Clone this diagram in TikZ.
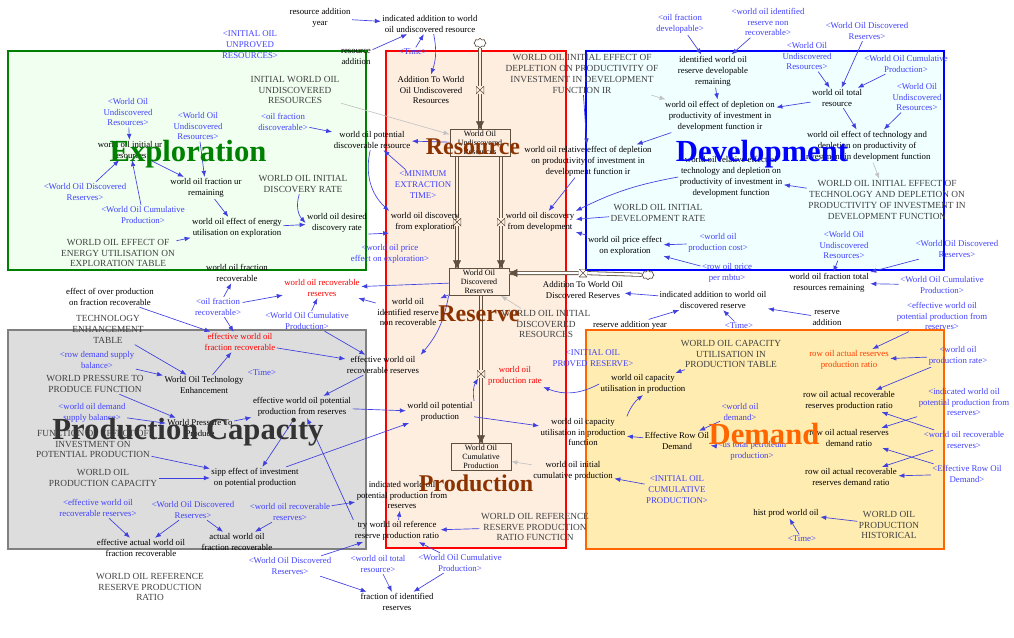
\documentclass[tikz,border=0pt]{standalone}
\usepackage{fontspec}
\setmainfont{Liberation Serif}
\usetikzlibrary{arrows.meta,calc,shapes.symbols}
\definecolor{expfill}{RGB}{240,255,240}
\definecolor{expline}{RGB}{0,128,0}
\definecolor{resfill}{RGB}{253,238,224}
\definecolor{resline}{RGB}{255,0,0}
\definecolor{resword}{RGB}{140,50,0}
\definecolor{devfill}{RGB}{240,255,255}
\definecolor{devline}{RGB}{0,0,255}
\definecolor{capfill}{RGB}{221,221,221}
\definecolor{capline}{RGB}{128,128,128}
\definecolor{capword}{RGB}{51,51,51}
\definecolor{demfill}{RGB}{255,236,176}
\definecolor{demline}{RGB}{255,102,0}
\definecolor{shadowc}{RGB}{64,64,255}
\definecolor{linkc}{RGB}{64,64,224}
\definecolor{constc}{RGB}{64,64,64}
\definecolor{pipec}{RGB}{96,80,64}
\definecolor{initc}{RGB}{195,195,195}
\definecolor{ratioc}{RGB}{255,60,0}
\newcommand{\varfont}{\fontsize{6.6}{8.2}\selectfont}
\newcommand{\capsfont}{\fontsize{7}{8.2}\selectfont}
\newcommand{\stockfont}{\fontsize{6}{6.6}\selectfont}
\tikzset{var/.style={font=\varfont,align=center,inner sep=1pt,text=black},cst/.style={var,font=\capsfont,text=constc},shd/.style={var,text=shadowc},redv/.style={var,text=red},orv/.style={var,text=ratioc},stock/.style={draw=pipec,fill=resfill,font=\stockfont,align=center,minimum width=45pt,minimum height=20pt,inner sep=1pt,line width=0.6pt},panel/.style={line width=2pt},sector/.style={font=\fontsize{23}{23}\selectfont\bfseries,inner sep=0pt},subsector/.style={font=\fontsize{18}{18}\selectfont\bfseries,inner sep=0pt,text=resword},lnk/.style={-{Latex[length=4.5pt,width=3.5pt]},draw=linkc,line width=0.5pt},ilk/.style={lnk,draw=initc},pipe/.style={draw=pipec,line width=0.6pt,double=resfill,double distance=1.8pt},pipehead/.style={-{Triangle[length=6pt,width=6pt]},draw=pipec,fill=pipec,line width=0.4pt},valvev/.style={minimum width=6pt,minimum height=6pt,inner sep=0pt,path picture={\draw[pipec,line width=0.5pt] (path picture bounding box.south west)--(path picture bounding box.north east)--(path picture bounding box.south east)--(path picture bounding box.north west)--cycle;}},valveh/.style={valvev,path picture={\draw[pipec,line width=0.5pt] (path picture bounding box.south west)--(path picture bounding box.north east)--(path picture bounding box.north west)--(path picture bounding box.south east)--cycle;}},cloudnode/.style={cloud,cloud puffs=8,draw=pipec,fill=white,minimum width=9pt,minimum height=7pt,inner sep=0pt,line width=0.5pt}}
\begin{document}
\begin{tikzpicture}[x=0.75pt,y=-0.75pt]
\useasboundingbox (0,0) rectangle (1014,637);
% sectors
\draw[panel,draw=expline,fill=expfill] (8,51) rectangle (366,270);
\draw[panel,draw=resline,fill=resfill] (386,51) rectangle (566,548);
\draw[panel,draw=devline,fill=devfill] (586,51) rectangle (944,270);
\draw[panel,draw=capline,fill=capfill] (8,330) rectangle (366,549);
\draw[panel,draw=demline,fill=demfill] (586,330) rectangle (944,549);
% stocks, clouds and valves
\node[stock] (wour) at (480,143) {World Oil\\Undiscovered\\Resources};
\node[stock] (wodr) at (479,282) {World Oil\\Discovered\\Reserves};
\node[stock] (wocp) at (481,457) {World Oil\\Cumulative\\Production};
\node[cloudnode] (cldtop) at (480,43) {};
\node[cloudnode] (cldright) at (648,275) {};
\node[valvev] (vadd) at (480,90) {};
\node[valvev] (vexp) at (457,222) {};
\node[valvev] (vdev) at (501,222) {};
\node[valvev] (vprod) at (481,374) {};
\node[valveh] (vdisc) at (583,273) {};
\draw[pipe] (cldtop)--(vadd)--(wour);
\draw[pipe] (vexp |- wour.south)--(vexp)--(vexp |- wodr.north);
\draw[pipe] (vdev |- wour.south)--(vdev)--(vdev |- wodr.north);
\draw[pipe] (vprod |- wodr.south)--(vprod)--(vprod |- wocp.north);
\draw[pipe,double=white] (cldright)--(vdisc)--(vdisc -| wodr.east);
\draw[pipehead] ($(wour.north)+(0,-1)$)--(wour.north);
\draw[pipehead] ($(vexp |- wodr.north)+(0,-1)$)--(vexp |- wodr.north);
\draw[pipehead] ($(vdev |- wodr.north)+(0,-1)$)--(vdev |- wodr.north);
\draw[pipehead] ($(vprod |- wocp.north)+(0,-1)$)--(vprod |- wocp.north);
\draw[pipehead] ($(vdisc -| wodr.east)+(1,0)$)--(vdisc -| wodr.east);
% top
\node[var] (rayear) at (320,18) {resource addition\\year};
\node[var] (indaddur) at (430,24) {indicated addition to world\\oil undiscovered resource};
\node[shd] (timea) at (413,52) {<Time>};
\node[var] (resadd) at (356,57) {resource\\addition};
\node[shd] (iour) at (250,45) {<INITIAL OIL\\UNPROVED\\RESOURCES>};
\node[var] (adduri) at (431,90) {Addition To World\\Oil Undiscovered\\Resources};
\node[cst] (iwour) at (295,90) {INITIAL WORLD OIL\\UNDISCOVERED\\RESOURCES};
% exploration
\node[shd] (wour1) at (128,112) {<World Oil\\Undiscovered\\Resources>};
\node[var] (iniur) at (130,150) {world oil initial ur\\resources};
\node[shd] (wour2) at (198,126) {<World Oil\\Undiscovered\\Resources>};
\node[var] (fracur) at (206,188) {world oil fraction ur\\remaining};
\node[shd] (wodr1) at (85,192) {<World Oil Discovered\\Reserves>};
\node[shd] (wocp1) at (143,215) {<World Oil Cumulative\\Production>};
\node[var] (effen) at (237,228) {world oil effect of energy\\utilisation on exploration};
\node[cst] (effentab) at (118,253) {WORLD OIL EFFECT OF\\ENERGY UTILISATION ON\\EXPLORATION TABLE};
\node[shd] (ofdisc) at (283,122) {<oil fraction\\discoverable>};
\node[var] (potdisc) at (372,140) {world oil potential\\discoverable resource};
\node[shd] (minext) at (423,185) {<MINIMUM\\EXTRACTION\\TIME>};
\node[cst] (inidisc) at (303,184) {WORLD OIL INITIAL\\DISCOVERY RATE};
\node[var] (desdisc) at (337,223) {world oil desired\\discovery rate};
\node[var] (discexp) at (425,222) {world oil discovery\\from exploration};
\node[shd] (pricexp1) at (390,254) {<world oil price\\effect on exploration>};
% development
\node[shd] (ofdev) at (680,24) {<oil fraction\\developable>};
\node[shd] (woirnr) at (768,22) {<world oil identified\\reserve non\\recoverable>};
\node[shd] (wodr2) at (867,31) {<World Oil Discovered\\Reserves>};
\node[shd] (wour3) at (807,56) {<World Oil\\Undiscovered\\Resources>};
\node[shd] (wocp2) at (906,64) {<World Oil Cumulative\\Production>};
\node[var] (idrem) at (713,71) {identified world oil\\reserve developable\\remaining};
\node[var] (totres) at (837,98) {world oil total\\resource};
\node[shd] (wour4) at (917,97) {<World Oil\\Undiscovered\\Resources>};
\node[var] (efftech) at (867,146) {world oil effect of technology and\\depletion on productivity of\\investment in development function};
\node[cst] (iniefftech) at (887,200) {WORLD OIL INITIAL EFFECT OF\\TECHNOLOGY AND DEPLETION ON\\PRODUCTIVITY OF INVESTMENT IN\\DEVELOPMENT FUNCTION};
\node[var] (reltech) at (731,177) {world oil relative effect of\\technology and depletion on\\productivity of investment in\\development function};
\node[var] (effdep) at (720,116) {world oil effect of depletion on\\productivity of investment in\\development function ir};
\node[cst] (inieffdep) at (582,74) {WORLD OIL INITIAL EFFECT OF\\DEPLETION ON PRODUCTIVITY OF\\INVESTMENT IN DEVELOPMENT\\FUNCTION IR};
\node[var] (reldep) at (588,161) {world oil relative effect of depletion\\on productivity of investment in\\development function ir};
\node[var] (discdev) at (540,222) {world oil discovery\\from development};
\node[cst] (inidev) at (658,213) {WORLD OIL INITIAL\\DEVELOPMENT RATE};
\node[var] (pricexp2) at (625,246) {world oil price effect\\on exploration};
\node[shd] (prodcost) at (718,243) {<world oil\\production cost>};
\node[shd] (rowprice) at (727,273) {<row oil price\\per mbtu>};
% right of development
\node[shd] (wour5) at (844,245) {<World Oil\\Undiscovered\\Resources>};
\node[shd] (wodr3) at (957,249) {<World Oil Discovered\\Reserves>};
\node[var] (fractot) at (829,283) {world oil fraction total\\resources remaining};
\node[shd] (wocp3) at (942,285) {<World Oil Cumulative\\Production>};
\node[var] (resaddb) at (827,318) {reserve\\addition};
\node[var] (indadddr) at (713,300) {indicated addition to world oil\\discovered reserve};
\node[var] (addrdi) at (583,290) {Addition To World Oil\\Discovered Reserves};
\node[var] (rayear2) at (630,325) {reserve addition year};
\node[shd] (timeb) at (739,326) {<Time>};
\node[shd] (effpotpr1) at (942,316) {<effective world oil\\potential production from\\reserves>};
% reserve and production capacity
\node[redv] (recres) at (322,288) {world oil recoverable\\reserves};
\node[shd] (wocp4) at (307,321) {<World Oil Cumulative\\Production>};
\node[var] (idnr) at (408,312) {world oil\\identified reserve\\non recoverable};
\node[cst] (inidiscres) at (546,324) {WORLD OIL INITIAL\\DISCOVERED\\RESOURCES};
\node[var] (effrecres) at (383,365) {effective world oil\\recoverable reserves};
\node[redv] (efffrac) at (240,342) {effective world oil\\fraction recoverable};
\node[shd] (timec) at (262,373) {<Time>};
\node[var] (fracrec) at (237,273) {world oil fraction\\recoverable};
\node[shd] (ofrec) at (218,307) {<oil fraction\\recoverable>};
\node[var] (eop) at (110,297) {effect of over production\\on fraction recoverable};
\node[cst] (techtab) at (108,329) {TECHNOLOGY\\ENHANCEMENT\\TABLE};
\node[shd] (rdsb) at (97,360) {<row demand supply\\balance>};
\node[var] (techenh) at (204,385) {World Oil Technology\\Enhancement};
\node[cst] (wptpf) at (95,384) {WORLD PRESSURE TO\\PRODUCE FUNCTION};
\node[shd] (wodsb) at (92,413) {<world oil demand\\supply balance>};
\node[var] (wptp) at (200,428) {World Pressure To\\Produce};
\node[cst] (foeoi) at (93,444) {FUNCTION OF EFFECT OF\\INVESTMENT ON\\POTENTIAL PRODUCTION};
\node[cst] (wopc) at (103,478) {WORLD OIL\\PRODUCTION CAPACITY};
\node[var] (sipp) at (255,478) {sipp effect of investment\\on potential production};
\node[var] (effpotpr) at (302,407) {effective world oil potential\\production from reserves};
\node[var] (potprod) at (440,412) {world oil potential\\production};
\node[redv] (prodrate) at (515,376) {world oil\\production rate};
\node[var] (cupf) at (583,432) {world oil capacity\\utilisation in production\\function};
\node[var] (cup) at (643,384) {world oil capacity\\utilisation in production};
\node[cst] (cutab) at (731,354) {WORLD OIL CAPACITY\\UTILISATION IN\\PRODUCTION TABLE};
\node[var] (erod) at (677,441) {Effective Row Oil\\Demand};
\node[shd] (wodem) at (740,412) {<world oil\\demand>};
\node[shd] (ustp) at (752,451) {<us total petroleum\\production>};
\node[var] (inicp) at (573,471) {world oil initial\\cumulative production};
\node[shd] (iocp) at (677,490) {<INITIAL OIL\\CUMULATIVE\\PRODUCTION>};
\node[shd] (iopr) at (593,358) {<INITIAL OIL\\PROVED RESERVE>};
\node[cst] (rrprf) at (535,527) {WORLD OIL REFERENCE\\RESERVE PRODUCTION\\RATIO FUNCTION};
\node[var] (tryrr) at (397,531) {try world oil reference\\reserve production ratio};
\node[var] (indpot) at (402,495) {indicated world oil\\potential production from\\reserves};
\node[shd] (worr) at (290,512) {<world oil recoverable\\reserves>};
\node[var] (actfrac) at (237,542) {actual world oil\\fraction recoverable};
\node[shd] (wodr4) at (193,510) {<World Oil Discovered\\Reserves>};
\node[shd] (ewrr) at (98,508) {<effective world oil\\recoverable reserves>};
\node[var] (eafrac) at (141,548) {effective actual world oil\\fraction recoverable};
\node[cst] (rrpr) at (150,587) {WORLD OIL REFERENCE\\RESERVE PRODUCTION\\RATIO};
\node[shd] (wodr5) at (290,566) {<World Oil Discovered\\Reserves>};
\node[shd] (wotr) at (378,564) {<world oil total\\resource>};
\node[shd] (wocp5) at (460,563) {<World Oil Cumulative\\Production>};
\node[var] (fir) at (397,602) {fraction of identified\\reserves};
% demand
\node[orv] (rarpr) at (849,360) {row oil actual reserves\\production ratio};
\node[shd] (woprate) at (958,356) {<world oil\\production rate>};
\node[var] (rarrpr) at (849,401) {row oil actual recoverable\\reserves production ratio};
\node[shd] (iwpp) at (964,402) {<indicated world oil\\potential production from\\reserves>};
\node[var] (rard) at (849,438) {row oil actual reserves\\demand ratio};
\node[var] (rarrd) at (851,477) {row oil actual recoverable\\reserves demand ratio};
\node[shd] (worr2) at (964,440) {<world oil recoverable\\reserves>};
\node[shd] (erod2) at (967,474) {<Effective Row Oil\\Demand>};
\node[var] (hist) at (786,513) {hist prod world oil};
\node[cst] (woph) at (889,525) {WORLD OIL\\PRODUCTION\\HISTORICAL};
\node[shd] (timed) at (802,539) {<Time>};
% links
\draw[lnk] (rayear)--(indaddur);
\draw[lnk] (resadd)--(indaddur);
\draw[lnk] (timea)--(indaddur);
\draw[lnk] (indaddur.-70) to[bend left=15] (adduri.north);
\draw[ilk] (iwour)--(wour);
\draw[lnk] (wour1)--(iniur);
\draw[lnk] (wour2)--(fracur);
\draw[lnk] (iniur)--(fracur);
\draw[lnk] (wodr1)--(iniur);
\draw[lnk] (wocp1)--(iniur);
\draw[lnk] (fracur)--(effen);
\draw[lnk] (effentab)--(effen);
\draw[lnk] (ofdisc)--(potdisc);
\draw[lnk] (wour)--(potdisc);
\draw[lnk] (minext)--(potdisc);
\draw[lnk] (potdisc.-100) to[bend right=30] (discexp.north west);
\draw[lnk] (inidisc.-110) to[bend right=30] (desdisc.west);
\draw[lnk] (effen)--(desdisc);
\draw[lnk] (desdisc.south east)--(discexp.south west);
\draw[lnk] (ofdev)--(idrem);
\draw[lnk] (woirnr)--(idrem);
\draw[lnk] (wour3)--(totres);
\draw[lnk] (wodr2)--(totres);
\draw[lnk] (wocp2)--(totres);
\draw[lnk] (totres)--(efftech);
\draw[lnk] (wour4)--(efftech);
\draw[ilk] (efftech)--(iniefftech);
\draw[lnk] (iniefftech)--(reltech);
\draw[lnk] (totres)--(effdep);
\draw[lnk] (idrem)--(effdep);
\draw[ilk] (inieffdep)--(effdep);
\draw[lnk] (effdep)--(reldep);
\draw[lnk] (inieffdep)--(reldep);
\draw[lnk] (reldep)--(discdev);
\draw[lnk] (reltech.west) to[bend right=8] (discdev.north east);
\draw[lnk] (inidev)--(discdev);
\draw[lnk] (pricexp2)--(discdev);
\draw[lnk] (prodcost)--(pricexp2);
\draw[lnk] (rowprice)--(pricexp2);
\draw[lnk] (wour5)--(fractot);
\draw[lnk] (wodr3)--(fractot);
\draw[lnk] (wocp3)--(fractot);
\draw[lnk] (resaddb)--(indadddr);
\draw[lnk] (indadddr)--(addrdi);
\draw[lnk] (rayear2)--(indadddr);
\draw[lnk] (timeb)--(indadddr);
\draw[lnk] (wodr)--(recres);
\draw[lnk] (wocp4)--(recres);
\draw[lnk] (idnr)--(recres);
\draw[lnk] (wodr)--(idnr);
\draw[ilk] (inidiscres)--(wodr);
\draw[lnk] (wodr.south west) to[bend left=15] (effrecres.north east);
\draw[lnk] (efffrac)--(effrecres);
\draw[lnk] (wocp4)--(effrecres);
\draw[lnk] (ofrec)--(fracrec);
\draw[lnk] (ofrec)--(recres);
\draw[lnk] (ofrec)--(efffrac);
\draw[lnk] (eop)--(efffrac);
\draw[lnk] (techtab)--(techenh);
\draw[lnk] (rdsb)--(techenh);
\draw[lnk] (techenh)--(efffrac);
\draw[lnk] (wptpf)--(wptp);
\draw[lnk] (wodsb)--(wptp);
\draw[lnk] (wptp)--(effpotpr);
\draw[lnk] (foeoi)--(sipp);
\draw[lnk] (wopc)--(sipp);
\draw[lnk] (effrecres)--(effpotpr);
\draw[lnk] (effpotpr)--(potprod);
\draw[lnk] (effpotpr)--(sipp);
\draw[lnk] (sipp)--(potprod);
\draw[lnk] (potprod.north east) to[bend left=20] (vprod);
\draw[lnk] (potprod)--(cupf);
\draw[lnk] (cup.west) to[bend left=25] (prodrate.south east);
\draw[lnk] (cupf.north east) to[bend left=15] (cup.south);
\draw[lnk] (erod)--(cupf);
\draw[lnk] (cutab)--(cup);
\draw[lnk] (wodem)--(erod);
\draw[lnk] (ustp)--(erod);
\draw[ilk] (inicp)--(wocp);
\draw[lnk] (iocp)--(inicp);
\draw[lnk] (rrprf)--(tryrr);
\draw[lnk] (tryrr)--(indpot);
\draw[lnk] (tryrr.north west)--(effpotpr);
\draw[lnk] (worr)--(indpot);
\draw[lnk] (worr)--(actfrac);
\draw[lnk] (wodr4)--(actfrac);
\draw[lnk] (wodr4)--(eafrac);
\draw[lnk] (ewrr)--(eafrac);
\draw[lnk] (wodr5)--(tryrr);
\draw[lnk] (wodr5)--(fir);
\draw[lnk] (wotr)--(fir);
\draw[lnk] (wocp5)--(fir);
\draw[lnk] (wocp5)--(tryrr);
\draw[lnk] (effpotpr1)--(rarpr);
\draw[lnk] (woprate)--(rarpr);
\draw[lnk] (woprate)--(rarrpr);
\draw[lnk] (worr2)--(rarrpr);
\draw[lnk] (iwpp)--(rard);
\draw[lnk] (worr2)--(rarrd);
\draw[lnk] (erod2)--(rard);
\draw[lnk] (erod2)--(rarrd);
\draw[lnk] (woph)--(hist);
\draw[lnk] (timed)--(hist);
% sector titles
\node[sector,text=expline] (exptitle) at (188,154) {Exploration};
\node[subsector] (restitle) at (473,147) {Resource};
\node[subsector] (rsvtitle) at (479,314) {Reserve};
\node[subsector] (prdtitle) at (476,483) {Production};
\node[sector,text=devline] (devtitle) at (762,154) {Development};
\node[sector,text=capword] (captitle) at (188,432) {Production Capacity};
\node[sector,text=demline] (demtitle) at (764,434) {Demand};
\end{tikzpicture}
\end{document}
